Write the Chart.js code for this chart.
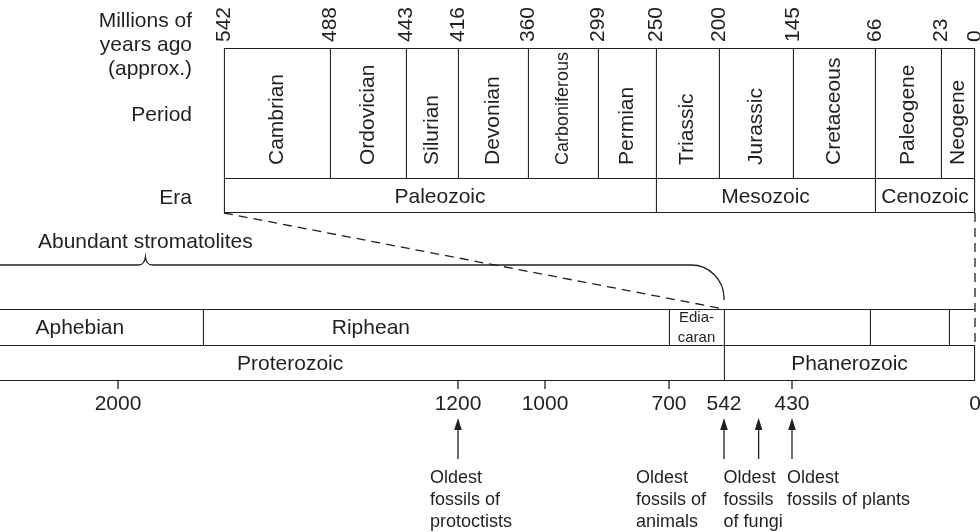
<!DOCTYPE html>
<html>
<head>
<meta charset="utf-8">
<title>Geologic time scale</title>
<script src="https://cdn.jsdelivr.net/npm/chart.js@4.4.1/dist/chart.umd.min.js"></script>
<style>
    html, body { margin: 0; padding: 0; background: #fff; }
    canvas { display: block; }
</style>
</head>
<body>
<canvas id="timeChart" width="980" height="532"></canvas>
<script>
// ages are millions of years ago
const periods = ['Cambrian', 'Ordovician', 'Silurian', 'Devonian', 'Carboniferous', 'Permian',
    'Triassic', 'Jurassic', 'Cretaceous', 'Paleogene', 'Neogene'];
const periodStart = [542, 488, 443, 416, 360, 299, 250, 200, 145, 66, 23];
const periodEnd = [488, 443, 416, 360, 299, 250, 200, 145, 66, 23, 0];

const eras = ['Paleozoic', 'Mesozoic', 'Cenozoic'];
const eraStart = [542, 250, 66];
const eraEnd = [250, 66, 0];

const topTicks = [542, 488, 443, 416, 360, 299, 250, 200, 145, 66, 23, 0];
const headerCaption = ['Millions of', 'years ago', '(approx.)'];
const rowCaptions = ['Period', 'Era'];

// lower strip
const subdivisions = ['Aphebian', 'Riphean', 'Edia-\ncaran', '', '', ''];
const subStart = [2500, 1800, 700, 542, 250, 66];
const subEnd = [1800, 700, 542, 250, 66, 0];
const subLabelAt = [2090, 1405, null, null, null, null];

const eons = ['Proterozoic', 'Phanerozoic'];
const eonStart = [2500, 542];
const eonEnd = [542, 0];
const eonLabelAt = [1595, null];

const bottomTicks = [2000, 1200, 1000, 700, 542, 430, 0];
const bottomTickMarks = [2000, 1200, 1000, 700, 430];

const stromatoliteLabel = 'Abundant stromatolites';
const stromatoliteSpan = [3300, 542];

const fossilAges = [1200, 542, 485, 430];
const fossilNotes = [
    ['Oldest', 'fossils of', 'protoctists'],
    ['Oldest', 'fossils of', 'animals'],
    ['Oldest', 'fossils', 'of fungi'],
    ['Oldest', 'fossils of plants']
];

const ink = '#231f20';
const fontFamily = '"Liberation Sans", Arial, Helvetica, sans-serif';
const font = size => size + 'px ' + fontFamily;
const lw = 1.3;

// the drawing is not to scale, so the time axes are piecewise linear
class PiecewiseScale extends Chart.LinearScale {
    static id = 'piecewise';
    static defaults = {};

    getPixelForValue(value) {
        const k = this.options.knots;
        let i = 1;
        while (i < k.length - 1 && value < k[i][0]) i++;
        const [a0, p0] = k[i - 1];
        const [a1, p1] = k[i];
        const p = p0 + (value - a0) * (p1 - p0) / (a1 - a0);
        return this.left + p / this.options.span * this.width;
    }

    getValueForPixel(pixel) {
        const k = this.options.knots;
        const p = (pixel - this.left) / this.width * this.options.span;
        let i = 1;
        while (i < k.length - 1 && p > k[i][1]) i++;
        const [a0, p0] = k[i - 1];
        const [a1, p1] = k[i];
        return a0 + (p - p0) * (a1 - a0) / (p1 - p0);
    }
}
Chart.register(PiecewiseScale);

function rotatedText(ctx, text, x, y, f) {
    ctx.save();
    ctx.translate(x, y);
    ctx.rotate(-Math.PI / 2);
    ctx.font = f;
    ctx.textAlign = 'left';
    ctx.textBaseline = 'middle';
    ctx.fillText(text, 0, 0);
    ctx.restore();
}

function line(ctx, x0, y0, x1, y1) {
    ctx.beginPath();
    ctx.moveTo(x0, y0);
    ctx.lineTo(x1, y1);
    ctx.stroke();
}

const timeScaleDrawing = {
    id: 'timeScaleDrawing',
    afterDatasetsDraw(chart) {
        const { ctx, scales } = chart;
        const { xTop, xBot, yPeriod, yEra, yGap, ySub, yEon } = scales;
        const mid = s => (s.top + s.bottom) / 2;
        ctx.save();
        ctx.fillStyle = ink;
        ctx.strokeStyle = ink;
        ctx.lineWidth = lw;

        // captions left of the top block
        const capX = xTop.getPixelForValue(periodStart[0]) - 32;
        ctx.font = font(21);
        ctx.textAlign = 'right';
        ctx.textBaseline = 'middle';
        headerCaption.forEach((t, i) => ctx.fillText(t, capX, yPeriod.top - 27 + 24 * i));
        ctx.fillText(rowCaptions[0], capX, mid(yPeriod) + 2);
        ctx.fillText(rowCaptions[1], capX, mid(yEra) + 3);

        topTicks.forEach(v => rotatedText(ctx, String(v), xTop.getPixelForValue(v), yPeriod.top - 6, font(21)));

        periods.forEach((name, i) => {
            const x = (xTop.getPixelForValue(periodStart[i]) + xTop.getPixelForValue(periodEnd[i])) / 2;
            ctx.font = font(21);
            const size = ctx.measureText(name).width > yPeriod.bottom - yPeriod.top - 14 ? 18 : 21;
            rotatedText(ctx, name, x, yPeriod.bottom - 13, font(size));
        });

        ctx.font = font(21);
        ctx.textAlign = 'center';
        eras.forEach((name, i) => {
            const x = (xTop.getPixelForValue(eraStart[i]) + xTop.getPixelForValue(eraEnd[i])) / 2;
            ctx.fillText(name, x, mid(yEra) + 2);
        });

        // dashed connectors from the top block down to the strip
        ctx.setLineDash([9, 6]);
        line(ctx, xTop.getPixelForValue(542), yEra.bottom, xBot.getPixelForValue(542), ySub.top);
        line(ctx, xTop.getPixelForValue(0), yEra.bottom, xBot.getPixelForValue(0), ySub.bottom);
        ctx.setLineDash([]);

        // stromatolite brace
        const bx0 = xBot.getPixelForValue(stromatoliteSpan[0]);
        const bx1 = xBot.getPixelForValue(stromatoliteSpan[1]);
        const bc = (bx0 + bx1) / 2;
        const by = yGap.top + 52;
        ctx.beginPath();
        ctx.moveTo(Math.max(bx0, chart.chartArea.left), by);
        ctx.lineTo(bc - 7, by);
        ctx.quadraticCurveTo(bc - 1, by, bc, by - 8);
        ctx.quadraticCurveTo(bc + 1, by, bc + 7, by);
        ctx.arcTo(bx1, by, bx1, ySub.top - 9, 33);
        ctx.lineTo(bx1, ySub.top - 9);
        ctx.stroke();
        ctx.fillText(stromatoliteLabel, bc, by - 23);

        // strip labels
        subdivisions.forEach((name, i) => {
            if (!name) return;
            const x = subLabelAt[i] != null ? xBot.getPixelForValue(subLabelAt[i])
                : (xBot.getPixelForValue(subStart[i]) + xBot.getPixelForValue(subEnd[i])) / 2;
            const parts = name.split('\n');
            if (parts.length > 1) {
                ctx.font = font(15);
                parts.forEach((p, j) => ctx.fillText(p, x, mid(ySub) - 9 + 20 * j));
            } else {
                ctx.font = font(21);
                ctx.fillText(name, x, mid(ySub) + 1);
            }
        });
        ctx.font = font(21);
        eons.forEach((name, i) => {
            const x = eonLabelAt[i] != null ? xBot.getPixelForValue(eonLabelAt[i])
                : (xBot.getPixelForValue(eonStart[i]) + xBot.getPixelForValue(eonEnd[i])) / 2;
            ctx.fillText(name, x, mid(yEon) + 1);
        });

        // bottom time axis
        const axisY = yEon.bottom;
        bottomTickMarks.forEach(v => {
            const x = xBot.getPixelForValue(v);
            line(ctx, x, axisY, x, axisY + 8);
        });
        bottomTicks.forEach(v => ctx.fillText(String(v), xBot.getPixelForValue(v), axisY + 23));

        // fossil arrows and notes
        const noteDx = [-28, -88, -35, -5];
        fossilAges.forEach((age, i) => {
            const x = xBot.getPixelForValue(age);
            line(ctx, x, axisY + 46, x, axisY + 78);
            ctx.beginPath();
            ctx.moveTo(x, axisY + 37);
            ctx.lineTo(x + 3.8, axisY + 49);
            ctx.lineTo(x - 3.8, axisY + 49);
            ctx.closePath();
            ctx.fill();
            ctx.font = font(18);
            ctx.textAlign = 'left';
            fossilNotes[i].forEach((t, j) => ctx.fillText(t, x + noteDx[i], axisY + 97 + 22 * j));
            ctx.textAlign = 'center';
        });

        ctx.restore();
    }
};

function cellBorder(n, opts) {
    return c => ({
        top: opts.top ? lw : 0,
        bottom: opts.bottom ? lw : 0,
        left: lw,
        right: c.dataIndex === n - 1 && opts.lastRight ? lw : 0
    });
}

const cellStyle = { backgroundColor: '#ffffff', borderColor: ink };

const ctx = document.getElementById('timeChart').getContext('2d');
const rowAxis = (label, weight, stackWeight) => ({
    type: 'category', labels: [label], offset: true, display: false,
    stack: 'rows', stackWeight: stackWeight, weight: weight
});

new Chart(ctx, {
    type: 'bar',
    data: {
        datasets: [{
            label: 'Period',
            data: periods.map((p, i) => ({ x: [periodStart[i], periodEnd[i]], y: 'Period' })),
            xAxisID: 'xTop', yAxisID: 'yPeriod',
            borderWidth: cellBorder(periods.length, { top: true, lastRight: true }),
            ...cellStyle
        }, {
            label: 'Era',
            data: eras.map((p, i) => ({ x: [eraStart[i], eraEnd[i]], y: 'Era' })),
            xAxisID: 'xTop', yAxisID: 'yEra',
            borderWidth: cellBorder(eras.length, { top: true, bottom: true, lastRight: true }),
            ...cellStyle
        }, {
            label: 'Subdivision',
            data: subdivisions.map((p, i) => ({ x: [subStart[i], subEnd[i]], y: 'Subdivision' })),
            xAxisID: 'xBot', yAxisID: 'ySub',
            borderWidth: cellBorder(subdivisions.length, { top: true, lastRight: false }),
            ...cellStyle
        }, {
            label: 'Eon',
            data: eons.map((p, i) => ({ x: [eonStart[i], eonEnd[i]], y: 'Eon' })),
            xAxisID: 'xBot', yAxisID: 'yEon',
            borderWidth: cellBorder(eons.length, { top: true, bottom: true, lastRight: true }),
            ...cellStyle
        }]
    },
    options: {
        indexAxis: 'y',
        responsive: false,
        animation: false,
        events: [],
        layout: { padding: 0 },
        datasets: {
            bar: {
                grouped: false,
                categoryPercentage: 1,
                barPercentage: 1,
                borderSkipped: false
            }
        },
        plugins: {
            colors: { enabled: false },
            legend: { display: false },
            tooltip: { enabled: false }
        },
        scales: {
            xTop: {
                type: 'piecewise', display: false, min: 0, max: 542, span: 980,
                knots: [[542, 224], [488, 330], [443, 406], [416, 458], [360, 528], [299, 598],
                    [250, 656], [200, 719], [145, 793], [66, 875], [23, 941], [0, 975]]
            },
            xBot: {
                type: 'piecewise', display: false, min: 0, max: 2500, span: 980,
                knots: [[2500, -94], [2000, 118], [1200, 458], [1000, 545], [700, 669], [542, 724],
                    [430, 792], [250, 870], [66, 949], [0, 975]]
            },
            yHead: rowAxis('head', 7, 48),
            yPeriod: rowAxis('Period', 6, 130),
            yEra: rowAxis('Era', 5, 35),
            yGap: rowAxis('gap', 4, 96),
            ySub: rowAxis('Subdivision', 3, 36),
            yEon: rowAxis('Eon', 2, 36),
            yFoot: rowAxis('foot', 1, 151)
        }
    },
    plugins: [timeScaleDrawing]
});
</script>
</body>
</html>
